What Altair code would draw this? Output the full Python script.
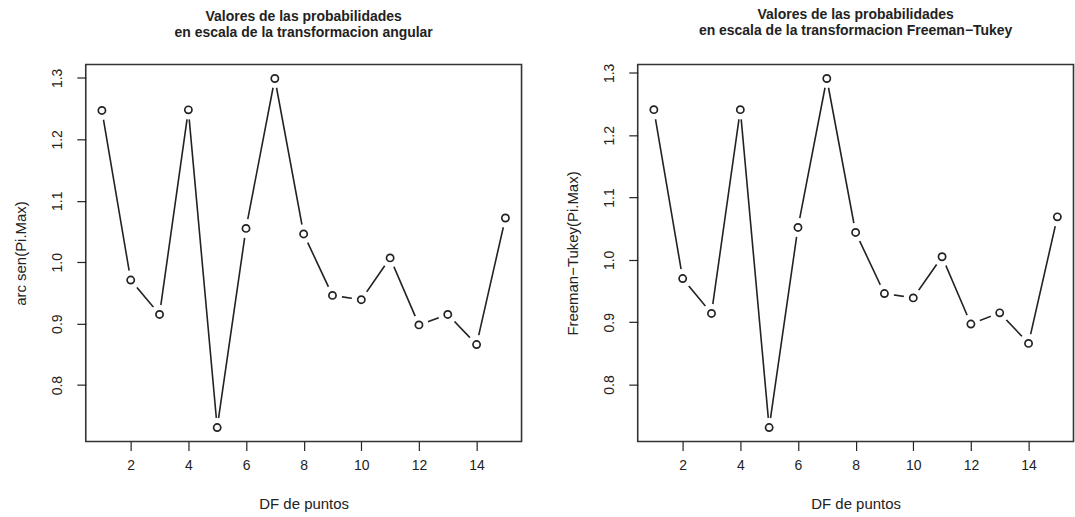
import altair as alt
import pandas as pd

# Number of points (DF de puntos) on the x axis
puntos = list(range(1, 16))

# Probabilities on the arc-sine (angular) scale
angular = [1.247, 0.971, 0.915, 1.248, 0.731, 1.055, 1.299, 1.046,
           0.946, 0.939, 1.007, 0.898, 0.915, 0.866, 1.072]

# Probabilities on the Freeman-Tukey scale
freeman_tukey = [1.241, 0.970, 0.914, 1.241, 0.731, 1.052, 1.291, 1.044,
                 0.946, 0.939, 1.005, 0.897, 0.915, 0.866, 1.069]

x_ticks = [2, 4, 6, 8, 10, 12, 14]
y_ticks = [0.8, 0.9, 1.0, 1.1, 1.2, 1.3]

FONT = "Liberation Sans"
INK = "#222222"
W, H = 437, 378


def padded(lo, hi, frac=0.04):
    r = hi - lo
    return [lo - frac * r, hi + frac * r]


def panel(values, ytitle, line2):
    df = pd.DataFrame({"x": puntos, "y": values})
    xs = alt.X("x:Q", scale=alt.Scale(domain=padded(min(puntos), max(puntos)), nice=False, zero=False),
               axis=alt.Axis(values=x_ticks, title="DF de puntos", grid=False, domain=False,
                             tickSize=9, tickColor=INK, tickWidth=1.2,
                             labelFont=FONT, labelFontSize=14, labelColor=INK, labelPadding=8,
                             titleFont=FONT, titleFontSize=15, titleFontWeight="normal",
                             titleColor=INK, titleY=62, titleBaseline="middle"))
    ys = alt.Y("y:Q", scale=alt.Scale(domain=padded(min(values), max(values)), nice=False, zero=False),
               axis=alt.Axis(values=y_ticks, title=ytitle, grid=False, domain=False,
                             format=".1f", tickSize=9, tickColor=INK, tickWidth=1.2,
                             labelAngle=270, labelAlign="center", labelBaseline="bottom",
                             labelFont=FONT, labelFontSize=14, labelColor=INK, labelPadding=12,
                             titleFont=FONT, titleFontSize=15, titleFontWeight="normal",
                             titleColor=INK, titleX=-65, titleBaseline="middle"))
    base = alt.Chart(df)
    # joined line, white discs that open a gap around each point, then the open circles
    line = base.mark_line(color=INK, strokeWidth=1.6).encode(x=xs, y=ys)
    gap = base.mark_circle(color="white", opacity=1).encode(x=xs, y=ys, size=alt.value(380))
    pts = base.mark_point(shape="circle", filled=False, color=INK, fill="white", fillOpacity=1,
                          strokeWidth=1.7, opacity=1).encode(x=xs, y=ys, size=alt.value(52))
    return alt.layer(line, gap, pts).properties(
        width=W, height=H,
        title=alt.TitleParams(text=["Valores de las probabilidades", line2],
                              font=FONT, fontSize=14, fontWeight="bold", color=INK,
                              anchor="middle", offset=25, lineHeight=16),
    )


left = panel(angular, "arc sen(Pi.Max)", "en escala de la transformacion angular")
right = panel(freeman_tukey, "Freeman\u2212Tukey(Pi.Max)", "en escala de la transformacion Freeman\u2212Tukey")

chart = alt.hconcat(left, right, spacing=116.5, bounds="flush").properties(
    padding={"left": 13, "top": 6, "right": 0, "bottom": 0},
    background="white",
).configure_view(stroke="#333333", strokeWidth=1.6)

chart.save("out.html", embed_options={"renderer": "svg", "actions": False})
